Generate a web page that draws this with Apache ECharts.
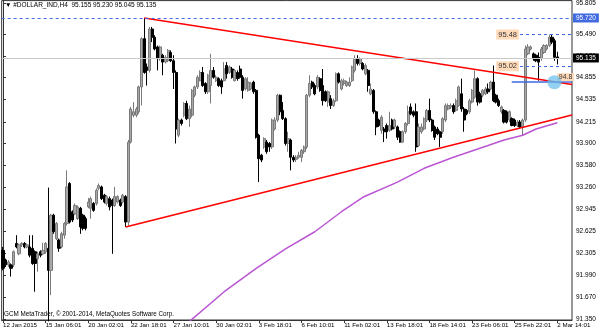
<!DOCTYPE html>
<html><head><meta charset="utf-8">
<script src="https://cdn.jsdelivr.net/npm/echarts/dist/echarts.min.js"></script>
<style>html,body{margin:0;padding:0;background:#fff}#c{width:600px;height:333px}</style>
</head><body><div id="c"></div>
<script>
const tickLabels = ['12 Jan 2015','15 Jan 06:01','20 Jan 02:01','22 Jan 18:01','27 Jan 10:01','30 Jan 02:01','3 Feb 18:01','6 Feb 10:01','11 Feb 02:01','13 Feb 18:01','18 Feb 14:01','23 Feb 06:01','25 Feb 22:01','2 Mar 14:01'];
const barsPerTick = 16;
const slotCount = 214;
// [open, close, low, high]
const candles = [
[92.35,92.09,92.06,92.40],[92.21,92.14,92.11,92.23],[92.14,92.18,92.11,92.21],[92.14,92.09,91.97,92.16],[92.14,92.33,92.11,92.35],
[92.45,92.40,92.38,92.57],[92.30,92.43,92.28,92.45],[92.43,92.45,92.40,92.47],[92.45,92.40,92.38,92.47],[92.40,92.43,92.38,92.45],
[92.40,92.28,92.25,92.57],[92.38,92.16,92.14,92.57],[92.33,92.16,91.75,92.35],[92.23,92.30,92.04,92.33],[92.33,92.28,92.25,92.35],
[92.30,92.35,92.28,92.46],[92.33,92.45,92.30,92.47],[92.38,92.06,91.32,93.26],[92.06,92.86,91.70,92.88],[92.86,92.62,92.59,92.88],
[92.52,92.74,92.50,92.76],[92.50,92.38,92.33,92.52],[92.40,92.59,92.38,92.62],[92.57,92.74,92.52,92.76],[92.74,93.27,92.71,93.51],
[93.32,92.76,92.74,93.34],[92.91,92.79,92.76,92.93],[92.88,93.00,92.86,93.03],[92.81,92.98,92.79,93.00],[92.96,92.69,92.59,92.98],
[92.86,92.67,92.64,92.88],[92.81,92.67,92.64,92.84],[92.98,93.05,92.96,93.11],[92.96,93.10,92.81,93.13],[93.03,92.93,92.91,93.05],
[93.03,93.22,93.00,93.25],[93.25,93.29,93.22,93.32],[93.27,93.10,93.08,93.29],[93.15,93.05,93.03,93.17],[93.03,93.13,93.00,93.15],
[93.10,92.98,92.93,93.13],[93.08,93.00,92.30,93.10],[93.00,93.13,92.98,93.27],[93.05,93.13,93.03,93.15],[93.08,93.00,92.98,93.10],
[93.05,93.15,93.03,93.17],[93.13,92.76,92.69,93.15],[92.76,93.92,92.71,93.95],[93.92,94.40,93.90,94.43],[94.31,94.36,94.28,94.50],
[94.31,94.40,94.28,94.43],[94.36,94.72,94.33,94.74],[94.72,95.42,94.45,95.44],[95.42,94.93,94.91,95.72],[95.01,94.96,94.74,95.06],
[94.96,95.56,94.93,95.59],[95.56,95.44,95.37,95.59],[95.44,95.27,95.25,95.47],[95.30,95.13,94.96,95.32],[95.13,95.30,95.10,95.32],
[95.18,95.08,94.89,95.20],[95.08,95.15,95.06,95.18],[95.10,95.25,95.08,95.27],[95.22,95.10,95.08,95.25],[95.10,94.93,94.69,95.18],
[94.93,94.11,93.90,94.96],[94.02,94.24,93.99,94.26],[94.24,94.19,94.16,94.26],[94.31,94.48,94.28,94.50],[94.48,94.26,94.24,94.52],
[94.26,94.40,94.14,94.45],[94.31,94.67,94.28,94.69],[94.60,94.72,94.57,94.74],[94.72,94.86,94.69,94.89],[94.81,94.93,94.80,94.96],
[94.93,94.74,94.72,95.01],[94.77,94.65,94.62,94.79],[94.65,94.89,94.62,94.91],[94.74,94.96,94.48,95.20],[94.96,94.86,94.84,95.01],
[94.81,94.86,94.79,94.89],[94.84,94.74,94.72,94.86],[94.81,94.72,94.62,94.84],[94.81,94.98,94.80,95.08],[95.03,94.91,94.84,95.08],
[94.93,95.01,94.91,95.03],[94.98,94.86,94.84,95.01],[94.81,94.96,94.80,94.98],[94.93,94.84,94.81,94.96],[94.98,94.86,94.84,95.03],
[94.86,94.67,94.55,94.89],[94.69,94.84,94.67,94.86],[94.67,94.79,94.65,94.86],[94.69,94.77,94.67,94.79],[94.79,94.65,94.62,94.81],
[94.67,93.99,93.97,94.69],[94.02,93.68,93.34,94.04],[93.73,93.66,93.63,93.75],[93.85,93.97,93.82,93.99],[93.92,93.78,93.75,93.95],
[93.90,93.85,93.78,93.92],[93.85,94.24,93.82,94.26],[94.11,94.24,94.09,94.28],[94.24,94.60,94.21,94.62],[94.60,94.36,94.31,94.61],
[94.38,94.26,94.24,94.50],[94.26,93.90,93.87,94.28],[93.90,93.97,93.78,94.07],[93.95,93.70,93.51,93.97],[93.70,93.66,93.63,93.73],
[93.67,93.70,93.63,93.73],[93.70,93.73,93.68,93.78],[93.70,93.80,93.63,93.82],[93.78,93.85,93.75,93.87],[93.85,94.60,93.82,94.62],
[94.60,94.77,94.57,94.89],[94.79,94.72,94.69,94.81],[94.74,94.62,94.60,94.77],[94.72,94.86,94.69,94.89],[94.84,94.67,94.65,94.86],
[94.74,94.52,94.45,94.98],[94.65,94.52,94.50,94.67],[94.50,94.65,94.43,94.67],[94.55,94.45,94.40,94.60],[94.45,94.52,94.43,94.55],
[94.52,94.91,94.50,94.93],[94.91,94.79,94.77,94.93],[94.69,94.81,94.67,94.84],[94.77,94.81,94.74,94.84],[94.74,94.79,94.72,94.81],
[94.74,94.79,94.72,94.86],[94.81,95.01,94.79,95.03],[94.96,95.13,94.93,95.18],[95.13,95.06,95.03,95.18],[95.06,95.13,95.03,95.15],
[95.06,94.98,94.96,95.08],[94.91,95.03,94.89,95.06],[94.96,94.74,94.65,94.98],[94.62,94.69,94.60,94.77],[94.67,94.36,94.33,94.69],
[94.36,94.14,94.02,94.38],[94.24,94.16,94.14,94.26],[94.09,94.28,94.04,94.31],[94.11,94.07,93.92,94.14],[94.16,94.07,93.97,94.19],
[94.09,94.16,94.07,94.36],[94.24,94.11,94.09,94.26],[94.14,94.24,94.11,94.26],[94.14,93.99,93.95,94.16],[94.07,93.92,93.91,94.09],
[93.92,94.07,93.91,94.09],[94.07,94.19,94.04,94.21],[94.19,94.36,94.16,94.45],[94.43,94.33,94.31,94.48],[94.36,94.31,94.28,94.38],
[94.36,93.85,93.78,94.48],[93.87,94.14,93.85,94.19],[94.07,94.14,94.04,94.19],[94.11,94.26,94.09,94.28],[94.24,94.38,94.21,94.40],
[94.38,94.24,94.21,94.55],[94.24,94.09,94.07,94.26],[94.14,93.99,93.95,94.16],[94.11,94.04,94.02,94.14],[94.07,93.99,93.85,94.09],
[94.07,94.26,94.04,94.28],[94.24,94.45,94.21,94.48],[94.40,94.45,94.38,94.48],[94.43,94.45,94.40,94.48],[94.45,94.36,94.33,94.48],
[94.38,94.52,94.36,94.55],[94.45,94.72,94.43,94.74],[94.62,94.40,94.36,94.84],[94.40,94.24,94.07,94.43],[94.38,94.33,94.31,94.40],
[94.36,94.52,94.33,94.55],[94.50,94.67,94.48,94.69],[94.57,94.84,94.55,94.96],[94.84,94.50,94.45,94.86],[94.62,94.50,94.48,94.65],
[94.60,94.67,94.57,94.69],[94.62,94.69,94.60,94.72],[94.69,94.65,94.62,94.77],[94.69,94.79,94.67,94.81],[94.79,94.52,94.50,95.03],
[94.60,94.50,94.48,94.62],[94.52,94.45,94.43,94.55],[94.36,94.43,94.33,94.45],[94.38,94.21,94.19,94.40],[94.36,94.21,94.19,94.38],
[94.24,94.36,94.21,94.38],[94.26,94.16,94.15,94.28],[94.24,94.16,94.14,94.26],[94.16,94.21,94.14,94.24],[94.21,94.14,94.11,94.24],
[94.14,94.24,94.02,94.26],[94.24,95.27,94.21,95.32],[95.20,95.30,95.18,95.34],[95.27,95.30,95.25,95.32],[95.20,95.13,95.10,95.22],
[95.18,95.10,95.08,95.20],[95.15,95.08,94.81,95.22],[95.13,95.27,95.10,95.30],[95.22,95.32,95.20,95.34],[95.27,95.32,95.25,95.34],
[95.32,95.44,95.30,95.48],[95.44,95.37,95.34,95.48],[95.39,95.15,95.10,95.42],[95.155,95.135,95.045,95.23]
];
const maIdx = [70, 83, 95, 106, 117, 127, 135, 148, 158, 169, 182, 188, 195, 200, 208];
const maVal = [91.32, 91.75, 92.09, 92.37, 92.62, 92.91, 93.12, 93.34, 93.54, 93.70, 93.87, 93.95, 94.02, 94.11, 94.20];
const upperTrend = [[53, 95.72], [213.5, 94.755]];
const lowerTrend = [[46, 92.69], [213.5, 94.314]];
const yTickValues = [91.35, 91.67, 91.99, 92.305, 92.625, 92.945, 93.26, 93.58, 93.90, 94.215, 94.535, 94.855, 95.17, 95.49, 95.93];
const yTickText = ['91.350','91.670','91.990','92.305','92.625','92.945','93.260','93.580','93.900','94.215','94.535','94.855','95.170','95.490','95.805'];
const highPrice = 95.72, bidPrice = 95.135;
const levelHigh = 95.48, levelMid = 95.02, levelLow = 94.80;
const levelStart = 194, blueLineStart = 190.9, rightEnd = 213.5;
const circlePt = [206.9, 94.789];
const tagPt = [211.1, 94.862];
const titleText = '\u25BC #DOLLAR_IND,H4  95.155 95.230 95.045 95.135';
const copyText = 'GCM MetaTrader, \u00A9 2001-2014, MetaQuotes Software Corp.';

const FONT = 'Liberation Sans';
const categories = Array.from({length: slotCount}, (_, i) => String(i));
const BLUE = '#4169E1', PEACH = '#FFDAB9';

const chart = echarts.init(document.getElementById('c'), null, {renderer: 'canvas'});
chart.setOption({
  animation: false,
  backgroundColor: '#fff',
  textStyle: {fontFamily: FONT},
  title: [
    {text: titleText, left: 5, top: 2, padding: 0, textStyle: {fontSize: 6.5, fontWeight: 'normal', color: '#000', fontFamily: FONT}},
    {text: copyText, left: 4, top: 311, padding: 0, textStyle: {fontSize: 6.3, fontWeight: 'normal', color: '#000', fontFamily: FONT}}
  ],
  grid: {left: 1.5, right: 28, top: 0, bottom: 13, show: true, borderColor: '#333', borderWidth: 1},
  xAxis: [
    {type: 'category', data: categories, boundaryGap: true,
     axisLine: {show: true, lineStyle: {color: '#333'}},
     axisTick: {show: true, alignWithLabel: true, length: 3, interval: (i) => i % barsPerTick === 0, lineStyle: {color: '#333'}},
     axisLabel: {interval: (i) => i % barsPerTick === 0, formatter: (v, idx) => tickLabels[Math.round(idx / barsPerTick)] || '',
                 align: 'left', fontSize: 6.2, color: '#000', margin: 2, fontFamily: FONT},
     splitLine: {show: false}},
    {type: 'value', min: -0.5, max: slotCount - 0.5, show: false}
  ],
  yAxis: {
    type: 'value', position: 'right', min: 91.34, max: 95.972, scale: true,
    splitLine: {show: false},
    axisLine: {show: true, lineStyle: {color: '#333'}},
    axisTick: {show: true, customValues: yTickValues, length: 3, lineStyle: {color: '#333'}},
    axisLabel: {customValues: yTickValues, margin: 4, fontSize: 6.5, color: '#000', fontFamily: FONT,
      formatter: (v) => { const k = yTickValues.findIndex(t => Math.abs(t - v) < 1e-6); return k >= 0 ? yTickText[k] : ''; }}
  },
  series: [
    {type: 'candlestick', xAxisIndex: 0, yAxisIndex: 0, data: candles, barWidth: 2.6, silent: true,
     itemStyle: {color: '#a8a8a8', color0: '#000', borderColor: '#7a7a7a', borderColor0: '#000', borderWidth: 1}},
    {type: 'line', xAxisIndex: 1, data: upperTrend, symbol: 'none', silent: true, lineStyle: {color: '#ff0000', width: 1.6}},
    {type: 'line', xAxisIndex: 1, data: lowerTrend, symbol: 'none', silent: true, lineStyle: {color: '#ff0000', width: 1.6}},
    {type: 'line', xAxisIndex: 1, data: maIdx.map((x, i) => [x, maVal[i]]), symbol: 'none', silent: true,
     lineStyle: {color: '#BA55D3', width: 1.5},
     markLine: {symbol: ['none', 'none'], silent: true, animation: false,
       data: [
         {yAxis: highPrice, lineStyle: {color: BLUE, type: [3, 3], width: 1},
          label: {show: true, position: 'end', distance: 1, formatter: '95.720', color: '#fff', backgroundColor: BLUE, padding: [1, 3], fontSize: 6.5, fontFamily: FONT}},
         {yAxis: bidPrice, lineStyle: {color: '#c8c8c8', type: 'solid', width: 1},
          label: {show: true, position: 'end', distance: 1, formatter: '95.135', color: '#fff', backgroundColor: '#000', padding: [1, 3], fontSize: 6.5, fontFamily: FONT}},
         [{coord: [levelStart, levelHigh], lineStyle: {color: BLUE, type: [3, 3], width: 1},
           label: {show: true, position: 'start', distance: 1, formatter: '95.48', color: '#333', backgroundColor: PEACH, padding: [1, 2], fontSize: 7.5, fontFamily: FONT}},
          {coord: [rightEnd, levelHigh]}],
         [{coord: [levelStart, levelMid], lineStyle: {color: BLUE, type: [3, 3], width: 1},
           label: {show: true, position: 'start', distance: 1, formatter: '95.02', color: '#333', backgroundColor: PEACH, padding: [1, 2], fontSize: 7.5, fontFamily: FONT}},
          {coord: [rightEnd, levelMid]}],
         [{coord: [blueLineStart, levelLow], lineStyle: {color: BLUE, type: 'solid', width: 1.6}, label: {show: false}},
          {coord: [rightEnd, levelLow]}]
       ]},
     markPoint: {silent: true, animation: false,
       data: [
         {coord: tagPt, symbol: 'rect', symbolSize: [17, 8], itemStyle: {color: PEACH},
          label: {show: true, position: 'inside', formatter: '94.8', color: '#333', fontSize: 7, fontFamily: FONT}},
         {coord: circlePt, symbol: 'circle', symbolSize: 14, itemStyle: {color: 'rgba(105,190,235,0.72)'}, label: {show: false}}
       ]}}
  ]
});
</script></body></html>
